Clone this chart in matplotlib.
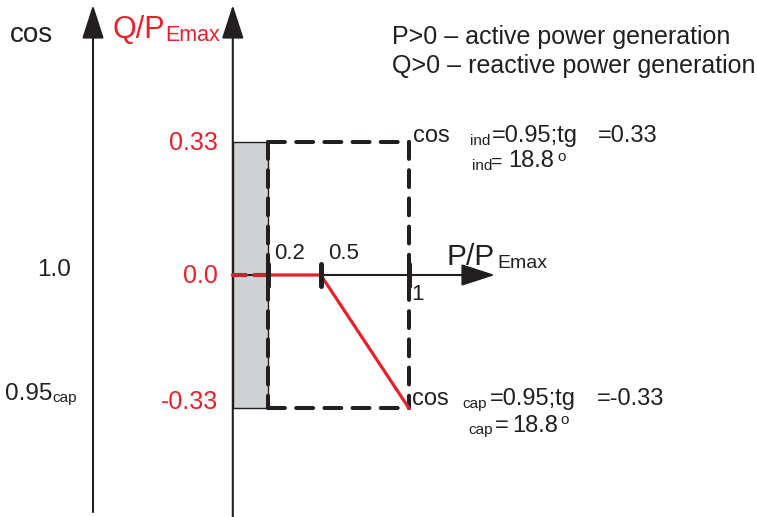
import matplotlib
matplotlib.use("Agg")
import matplotlib.pyplot as plt
from matplotlib.patches import Rectangle

# data of the P-Q diagram (P/PEmax on x, Q/PEmax on y)
p_ticks = [0.2, 0.5, 1.0]
p_tick_labels = ['0.2', '0.5', '1']
q_levels = [0.33, 0.0, -0.33]
q_labels = ['0.33', '0.0', '-0.33']
cos_levels = [0.0, -0.33]
cos_labels = ['1.0', '0.95']
cos_subs = ['', 'cap']

p_min, p_max = 0.2, 1.0
q_max = 0.33

curve_p = [0.2, 0.5, 1.0]
curve_q = [0.0, 0.0, -0.33]
dash_p = [0.0, 0.2]
dash_q = [0.0, 0.0]

# image geometry (pixels)
W, H = 757, 517
X0, SX = 232.8, 176.0     # pixel of P=0, pixels per unit P
Y0, SY = 275.0, 403.0     # pixel of Q=0, pixels per unit Q

BLACK = '#231f20'
RED = '#e8202a'
DARKRED = '#c1272d'
GRAY = '#d1d2d4'

plt.rcParams['font.family'] = ['Liberation Sans', 'DejaVu Sans']


def px(x, y):
    """pixel position in the picture -> data coordinates"""
    return (x - X0) / SX, (Y0 - y) / SY


fig = plt.figure(figsize=(W / 100, H / 100), dpi=100)
ax = fig.add_axes([0, 0, 1, 1])
ax.set_xlim(-X0 / SX, (W - X0) / SX)
ax.set_ylim((Y0 - H) / SY, Y0 / SY)
ax.axis('off')


def label(x, y, s, size, color=BLACK, ha='left'):
    ax.text(*px(x, y), s, fontsize=size, color=color, ha=ha, va='baseline')


def arrow(start, tip):
    ax.annotate('', xy=tip, xytext=start,
                arrowprops=dict(arrowstyle='-|>,head_length=1.05,head_width=0.34',
                                mutation_scale=20, lw=1.5, color=BLACK,
                                shrinkA=0, shrinkB=0))


# gray band between Q axis and P=0.2
ax.add_patch(Rectangle((0, -q_max), p_min, 2 * q_max, fc=GRAY, ec=BLACK, lw=1.0, zorder=1))

# axes with arrow heads
cos_x = px(93, 0)[0]
arrow((cos_x, px(0, 512)[1]), (cos_x, px(0, 5)[1]))
arrow((0, px(0, H + 5)[1]), (0, px(0, 5)[1]))
arrow((0.0, 0.0), (px(495, 0)[0], 0.0))

# dashed operating rectangle
dash_kw = dict(color=BLACK, lw=2.9, ls=(0, (4.2, 2.8)), dash_capstyle='round', zorder=3)
ax.plot([p_min, p_max], [q_max, q_max], **dash_kw)
ax.plot([p_min, p_max], [-q_max, -q_max], **dash_kw)
ax.plot([p_min, p_min], [q_max, -q_max], **dash_kw)
ax.plot([p_max, p_max], [q_max, -q_max], **dash_kw)

# red characteristic
ax.plot(dash_p, dash_q, color=DARKRED, lw=3.0, ls=(0.5, (3.6, 2.0)),
        dash_capstyle='round', zorder=4)
ax.plot(curve_p, curve_q, color=RED, lw=2.3, solid_joinstyle='miter', zorder=4)

# tick marks on the P axis
vl = ax.vlines(p_ticks, -0.027, 0.027, color=BLACK, lw=3.6, zorder=5)
vl.set_capstyle('round')

# tick labels on P axis
p_lab_off = [(6, -16), (7, -16), (2, 25)]
for p, s, (dx, dy) in zip(p_ticks, p_tick_labels, p_lab_off):
    label(X0 + p * SX + dx, Y0 + dy, s, 16)

# Q labels (red)
q_lab_off = [8, 8, 1]
for q, s, dy in zip(q_levels, q_labels, q_lab_off):
    label(218, Y0 - q * SY + dy, s, 18, color=RED, ha='right')

# cos labels (left axis)
cos_x_px = [37, 5]
cos_dy = [1, -8]
for q, s, sub, x, dy in zip(cos_levels, cos_labels, cos_subs, cos_x_px, cos_dy):
    label(x, Y0 - q * SY + dy, s, 17.5)
    if sub:
        label(x + 47, Y0 - q * SY + dy + 2, sub, 11)

# axis titles
label(10, 42, 'cos', 20)
label(112, 38, 'Q/P', 22, color=RED)
label(165, 41, 'Emax', 15.5, color=RED)
label(446, 265, 'P/P', 21.5)
label(497, 268, 'Emax', 14)

# legend text
label(392, 44, 'P>0 \u2013 active power generation', 18)
label(392, 73, 'Q>0 \u2013 reactive power generation', 18)

# annotation at upper corner
label(413, 142, 'cos', 17)
label(470, 145, 'ind', 11)
label(492, 142, '=0.95;tg', 17)
label(598, 142, '=0.33', 17)
label(472, 170, 'ind', 11)
label(491, 167, '=', 14)
label(508, 167, '18.8', 17)
label(557, 161, 'o', 11)

# annotation at lower corner
label(412, 405, 'cos', 17)
label(462, 408, 'cap', 11)
label(490, 405, '=0.95;tg', 17)
label(597, 405, '=-0.33', 17)
label(468, 434, 'cap', 11)
label(495, 432, '=', 17)
label(512, 432, '18.8', 17)
label(560, 424, 'o', 11)

fig.savefig('out.png', dpi=100)
